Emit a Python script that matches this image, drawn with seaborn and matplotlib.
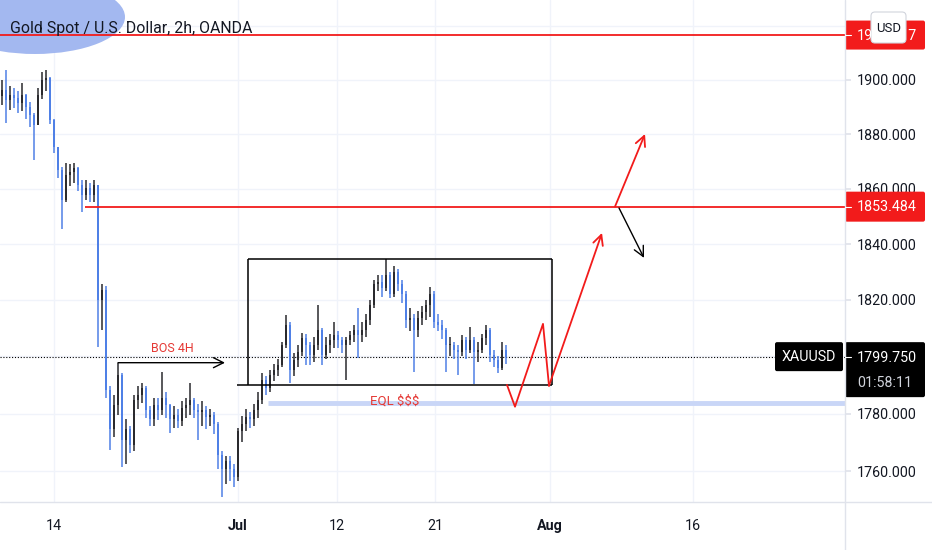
"""Gold spot 2h chart with range box, BOS / EQL marks and projected path."""

import matplotlib
matplotlib.use("Agg")
import matplotlib.pyplot as plt
import numpy as np
import seaborn as sns
from matplotlib import font_manager
from matplotlib.patches import Ellipse, FancyBboxPatch
from matplotlib.ticker import FixedLocator, FuncFormatter, NullLocator

# ---- data -----------------------------------------------------------------
OPEN_FIRST = 1894.0
CLOSES = [
    1896.2, 1892.7, 1894.4, 1893.4, 1891.5, 1894.4, 1890.1, 1887.1, 1883.4, 1894.4,
    1900.0, 1900.7, 1885.2, 1875.2, 1866.9, 1856.0, 1865.0, 1866.0, 1867.5, 1861.4,
    1857.8, 1860.3, 1857.8, 1861.4, 1820.0, 1823.7, 1788.4, 1774.5, 1783.0, 1793.6,
    1770.8, 1774.5, 1769.1, 1784.8, 1786.6, 1789.0, 1781.2, 1778.0, 1783.0, 1781.2,
    1785.5, 1783.0, 1778.0, 1779.6, 1777.3, 1782.0, 1783.0, 1784.8, 1781.2, 1780.6,
    1781.2, 1778.7, 1779.6, 1776.4, 1765.8, 1760.7, 1763.5, 1760.7, 1757.9, 1773.9,
    1776.4, 1778.7, 1778.0, 1781.2, 1784.8, 1791.8, 1789.0, 1793.6, 1795.3, 1797.1,
    1804.1, 1811.1, 1795.3, 1798.8, 1801.6, 1806.6, 1804.1, 1800.6, 1804.1, 1809.3,
    1800.6, 1804.1, 1805.9, 1807.5, 1805.9, 1804.1, 1805.9, 1807.5, 1809.3, 1807.5,
    1809.3, 1812.9, 1818.3, 1825.5, 1826.5, 1824.4, 1829.0, 1822.0, 1830.1, 1825.5,
    1822.0, 1813.0, 1813.6, 1809.4, 1813.6, 1815.8, 1818.3, 1822.0, 1812.2, 1811.1,
    1809.4, 1804.1, 1804.1, 1802.4, 1801.6, 1805.9, 1802.4, 1805.9, 1801.6, 1802.4,
    1806.6, 1809.4, 1800.6, 1798.8, 1796.0, 1802.4, 1799.75,
]
HIGHS = [
    1900.0, 1903.6, 1897.8, 1896.8, 1895.8, 1898.8, 1894.8, 1891.7, 1887.6, 1896.8,
    1902.9, 1903.6, 1901.0, 1885.6, 1875.2, 1868.0, 1869.4, 1869.0, 1869.4, 1868.0,
    1863.0, 1863.0, 1862.0, 1863.2, 1861.0, 1825.5, 1825.0, 1789.5, 1786.5, 1797.8,
    1794.3, 1778.0, 1775.8, 1786.6, 1789.5, 1790.8, 1789.5, 1782.6, 1785.5, 1785.5,
    1794.6, 1787.5, 1783.5, 1782.6, 1781.6, 1784.5, 1785.5, 1790.8, 1785.5, 1783.5,
    1784.5, 1782.6, 1781.6, 1780.6, 1777.0, 1767.2, 1765.4, 1765.2, 1762.4, 1775.0,
    1779.0, 1781.6, 1780.6, 1783.5, 1787.5, 1794.3, 1793.3, 1795.3, 1797.2, 1799.1,
    1805.1, 1814.7, 1812.0, 1801.1, 1804.1, 1808.3, 1808.0, 1805.1, 1807.0, 1818.3,
    1810.0, 1807.0, 1808.0, 1812.2, 1809.0, 1807.0, 1807.0, 1809.0, 1811.0, 1817.2,
    1812.0, 1815.0, 1820.0, 1827.0, 1829.0, 1829.0, 1834.7, 1830.0, 1832.0, 1831.0,
    1827.0, 1823.0, 1817.0, 1815.0, 1816.0, 1818.0, 1820.0, 1824.7, 1823.0, 1815.0,
    1813.0, 1810.0, 1807.0, 1805.1, 1804.1, 1807.7, 1807.0, 1810.3, 1807.0, 1805.1,
    1808.0, 1811.2, 1810.0, 1802.1, 1800.1, 1805.2, 1804.1,
]
LOWS = [
    1890.7, 1884.2, 1888.7, 1889.7, 1887.6, 1888.6, 1885.6, 1882.5, 1870.6, 1883.5,
    1892.8, 1895.8, 1883.5, 1873.2, 1864.0, 1845.3, 1855.0, 1861.0, 1862.0, 1859.0,
    1851.7, 1856.0, 1855.0, 1855.0, 1803.4, 1809.4, 1785.5, 1767.4, 1771.8, 1779.5,
    1761.4, 1762.5, 1766.4, 1767.0, 1781.6, 1783.6, 1778.6, 1775.6, 1775.8, 1777.8,
    1779.6, 1778.6, 1773.4, 1775.0, 1775.0, 1775.8, 1778.6, 1779.6, 1778.6, 1771.0,
    1775.8, 1774.6, 1775.8, 1773.0, 1760.7, 1751.1, 1755.6, 1756.6, 1754.7, 1756.6,
    1770.0, 1774.0, 1775.0, 1775.8, 1778.6, 1783.5, 1786.5, 1787.5, 1791.3, 1793.2,
    1796.2, 1803.1, 1790.7, 1793.2, 1796.2, 1800.1, 1797.0, 1797.0, 1798.0, 1802.1,
    1797.0, 1799.0, 1801.1, 1803.1, 1803.1, 1801.1, 1791.8, 1804.1, 1805.1, 1799.5,
    1805.1, 1807.0, 1811.0, 1817.0, 1823.0, 1821.0, 1823.0, 1820.8, 1821.0, 1823.0,
    1819.0, 1810.0, 1809.0, 1794.6, 1807.0, 1811.0, 1813.0, 1814.0, 1810.0, 1809.0,
    1806.0, 1794.6, 1800.1, 1799.1, 1793.5, 1800.1, 1799.1, 1801.1, 1790.2, 1798.1,
    1801.1, 1804.1, 1798.1, 1796.2, 1794.2, 1795.2, 1797.2,
]

TICK_POS = [13, 59, 83.75, 108.25, 137, 172.75]      # bar index of each date label
TICK_LABELS = ["14", "Jul", "12", "21", "Aug", "16"]
PRICE_TICKS = [1760, 1780, 1800, 1820, 1840, 1860, 1880, 1900]
HIDDEN_GRID = 1920   # its label sits under the red price tag

LEVEL_TOP = 1916.717
LEVEL_MID = 1853.484
LAST_PRICE = 1799.750
EQL_LEVEL = 1783.7
BOX_TOP, BOX_BOTTOM = 1834.7, 1790.0
BOX_LEFT, BOX_RIGHT, BOX_BASE_LEFT = 61.5, 137.5, 58.75
BOS_START, BOS_END, BOS_LEVEL = 29, 55.75, 1797.8

ZIG_X = [126.25, 128.25, 135.25, 136.75]
ZIG_Y = [1790.0, 1782.4, 1811.5, 1789.7]
ZIG_TIP = (150.0, 1844.0)
UP_ARROW = [(153.25, 1853.5), (160.75, 1880.0)]
DOWN_ARROW = [(154.25, 1853.0), (160.5, 1835.0)]

# ---- style ----------------------------------------------------------------
RED = "#f21b1b"
TXT_RED = "#e53935"
DOWN_C = "#4f80e6"
UP_C = "#2a2a2e"
GRID = "#f0f3fa"
SEP = "#e0e3eb"
INK = "#131722"


def pick_font():
    for name in ["Liberation Sans Narrow", "Roboto"]:
        try:
            font_manager.findfont(font_manager.FontProperties(family=name),
                                  fallback_to_default=False)
            return name
        except ValueError:
            continue
    return "DejaVu Sans"


sns.set_theme(style="white")
FONT = pick_font()
plt.rcParams["font.family"] = [FONT, "DejaVu Sans"]
S = 1.0 if FONT == "Liberation Sans Narrow" else 0.82

W, H = 932, 550
fig = plt.figure(figsize=(W / 100, H / 100), dpi=100)
fig.patch.set_facecolor("white")
ax = fig.add_axes([0, 48 / H, 845 / W, 502 / H])

closes = np.array(CLOSES)
opens = np.array([OPEN_FIRST] + CLOSES[:-1])
highs = np.array(HIGHS)
lows = np.array(LOWS)
x = np.arange(len(closes))
cols = np.where(closes >= opens, UP_C, DOWN_C)

ax.set_yscale("log")
ax.set_xlim(-0.5, 210.75)
ax.set_ylim(1749.5, 1929.9)

ax.vlines(x, lows, highs, colors=cols, lw=1.1, zorder=3)
body = np.maximum(np.abs(closes - opens), 0.3)
ax.bar(x, body, bottom=np.minimum(opens, closes), width=0.7, color=cols,
       linewidth=0, zorder=3)

# grid
ax.xaxis.set_major_locator(FixedLocator(TICK_POS))
ax.set_xticklabels(TICK_LABELS)
ax.yaxis.set_major_locator(FixedLocator(PRICE_TICKS))
ax.yaxis.set_minor_locator(NullLocator())
ax.yaxis.set_major_formatter(FuncFormatter(lambda v, _: f"{v:.3f}"))
ax.yaxis.set_minor_formatter(FuncFormatter(lambda v, _: ""))
ax.yaxis.tick_right()
ax.grid(True, color=GRID, lw=1.0, zorder=0)
ax.axhline(HIDDEN_GRID, color=GRID, lw=1.0, zorder=0)
ax.set_axisbelow(True)
for sp in ax.spines.values():
    sp.set_visible(False)
ax.tick_params(axis="y", length=4, color=SEP, labelcolor=INK,
               labelsize=12.5 * S, pad=4.5)
ax.tick_params(axis="x", length=4, color=SEP, labelcolor=INK,
               labelsize=12.5 * S, pad=8)
for lbl in ax.get_xticklabels():
    if lbl.get_text() in ("Jul", "Aug"):
        lbl.set_fontweight("bold")

# header highlight + title
ax.add_patch(Ellipse((35 / 845, 1 - 17 / 502), 180 / 845, 74 / 502,
                     transform=ax.transAxes, color="#a3b8f0", lw=0, zorder=1,
                     clip_on=False))
ax.text(10 / 845, 1 - 29 / 502, "Gold Spot / U.S. Dollar, 2h, OANDA",
        transform=ax.transAxes, ha="left", va="center", fontsize=14 * S,
        color=INK, zorder=6)

# levels
ax.axhline(LEVEL_TOP, color=RED, lw=1.3, zorder=4)
ax.hlines(LEVEL_MID, 20.75, 210.75, color=RED, lw=1.3, zorder=4)
ax.axhline(LAST_PRICE, color="black", lw=0.8, ls=(0, (1, 1.6)), zorder=2)
ax.hlines(EQL_LEVEL, 66.5, 210.75, color="#c9d6f7", lw=3.5, zorder=2)

# range box
ax.hlines(BOX_TOP, BOX_LEFT, BOX_RIGHT, color="black", lw=1.1, zorder=4)
ax.hlines(BOX_BOTTOM, BOX_BASE_LEFT, BOX_RIGHT, color="black", lw=1.1, zorder=4)
ax.vlines([BOX_LEFT, BOX_RIGHT], BOX_BOTTOM, BOX_TOP, color="black", lw=1.1,
          zorder=4)

arrow = dict(arrowstyle="->,head_length=0.6,head_width=0.3", mutation_scale=12,
             shrinkA=0, shrinkB=0)
ax.annotate("", xy=(BOS_END, BOS_LEVEL), xytext=(BOS_START, BOS_LEVEL),
            arrowprops=dict(arrow, color="black", lw=1.0), zorder=5)
ax.text(42.5, 1802.7, "BOS 4H", ha="center", va="center", fontsize=11 * S,
        color=TXT_RED, zorder=6)
ax.text(98.25, 1784.5, "EQL $$$", ha="center", va="center", fontsize=11.5 * S,
        color=TXT_RED, zorder=6)

# projected path
sns.lineplot(x=ZIG_X, y=ZIG_Y, sort=False, estimator=None, color=RED, lw=1.3,
             ax=ax, zorder=5)
ax.annotate("", xy=ZIG_TIP, xytext=(ZIG_X[-1], ZIG_Y[-1]),
            arrowprops=dict(arrow, color=RED, lw=1.3), zorder=5)
ax.annotate("", xy=UP_ARROW[1], xytext=UP_ARROW[0],
            arrowprops=dict(arrow, color=RED, lw=1.3), zorder=5)
ax.annotate("", xy=DOWN_ARROW[1], xytext=DOWN_ARROW[0],
            arrowprops=dict(arrow, color="black", lw=1.0), zorder=5)

# ---- price-scale overlay (pixel coordinates) -------------------------------
ov = fig.add_axes([0, 0, 1, 1], zorder=10)
ov.set_xlim(0, W)
ov.set_ylim(H, 0)
ov.axis("off")
ov.patch.set_alpha(0)


def img_y(price):
    return H - ax.transData.transform((0, price))[1]


ov.plot([845, 845], [0, H], color=SEP, lw=1.0)
ov.plot([0, W], [502, 502], color=SEP, lw=1.0)


def price_box(price, text, fc, tc="white", height=29):
    yc = img_y(price)
    ov.add_patch(FancyBboxPatch((845, yc - height / 2), 80, height,
                                boxstyle="round,pad=0,rounding_size=2",
                                fc=fc, ec="none"))
    ov.plot([845, 851], [yc, yc], color=tc, lw=0.8)
    ov.text(857, yc + 0.5, text, ha="left", va="center", color=tc,
            fontsize=12.5 * S)
    return yc


price_box(LEVEL_TOP, f"{LEVEL_TOP:.3f}", RED)
price_box(LEVEL_MID, f"{LEVEL_MID:.3f}", RED, height=30)

yc = img_y(LAST_PRICE)
ov.add_patch(FancyBboxPatch((845, yc - 15), 80, 55,
                            boxstyle="round,pad=0,rounding_size=2",
                            fc="black", ec="none"))
ov.plot([845, 851], [yc, yc], color="white", lw=0.8)
ov.text(857, yc + 0.5, f"{LAST_PRICE:.3f}", ha="left", va="center",
        color="white", fontsize=12.5 * S)
ov.text(857, yc + 26, "01:58:11", ha="left", va="center", color="#d1d4dc",
        fontsize=12.5 * S)
ov.add_patch(FancyBboxPatch((775, yc - 15), 68, 29,
                            boxstyle="round,pad=0,rounding_size=2",
                            fc="black", ec="none"))
ov.text(809, yc, "XAUUSD", ha="center", va="center", color="white",
        fontsize=12.5 * S)

ov.add_patch(FancyBboxPatch((871, 12), 35, 31,
                            boxstyle="round,pad=0,rounding_size=4",
                            fc="white", ec="#d1d4dc", lw=0.8))
ov.text(888.5, 28, "USD", ha="center", va="center", color=INK,
        fontsize=11.5 * S)

fig.savefig("out.png", dpi=100)
plt.close(fig)
